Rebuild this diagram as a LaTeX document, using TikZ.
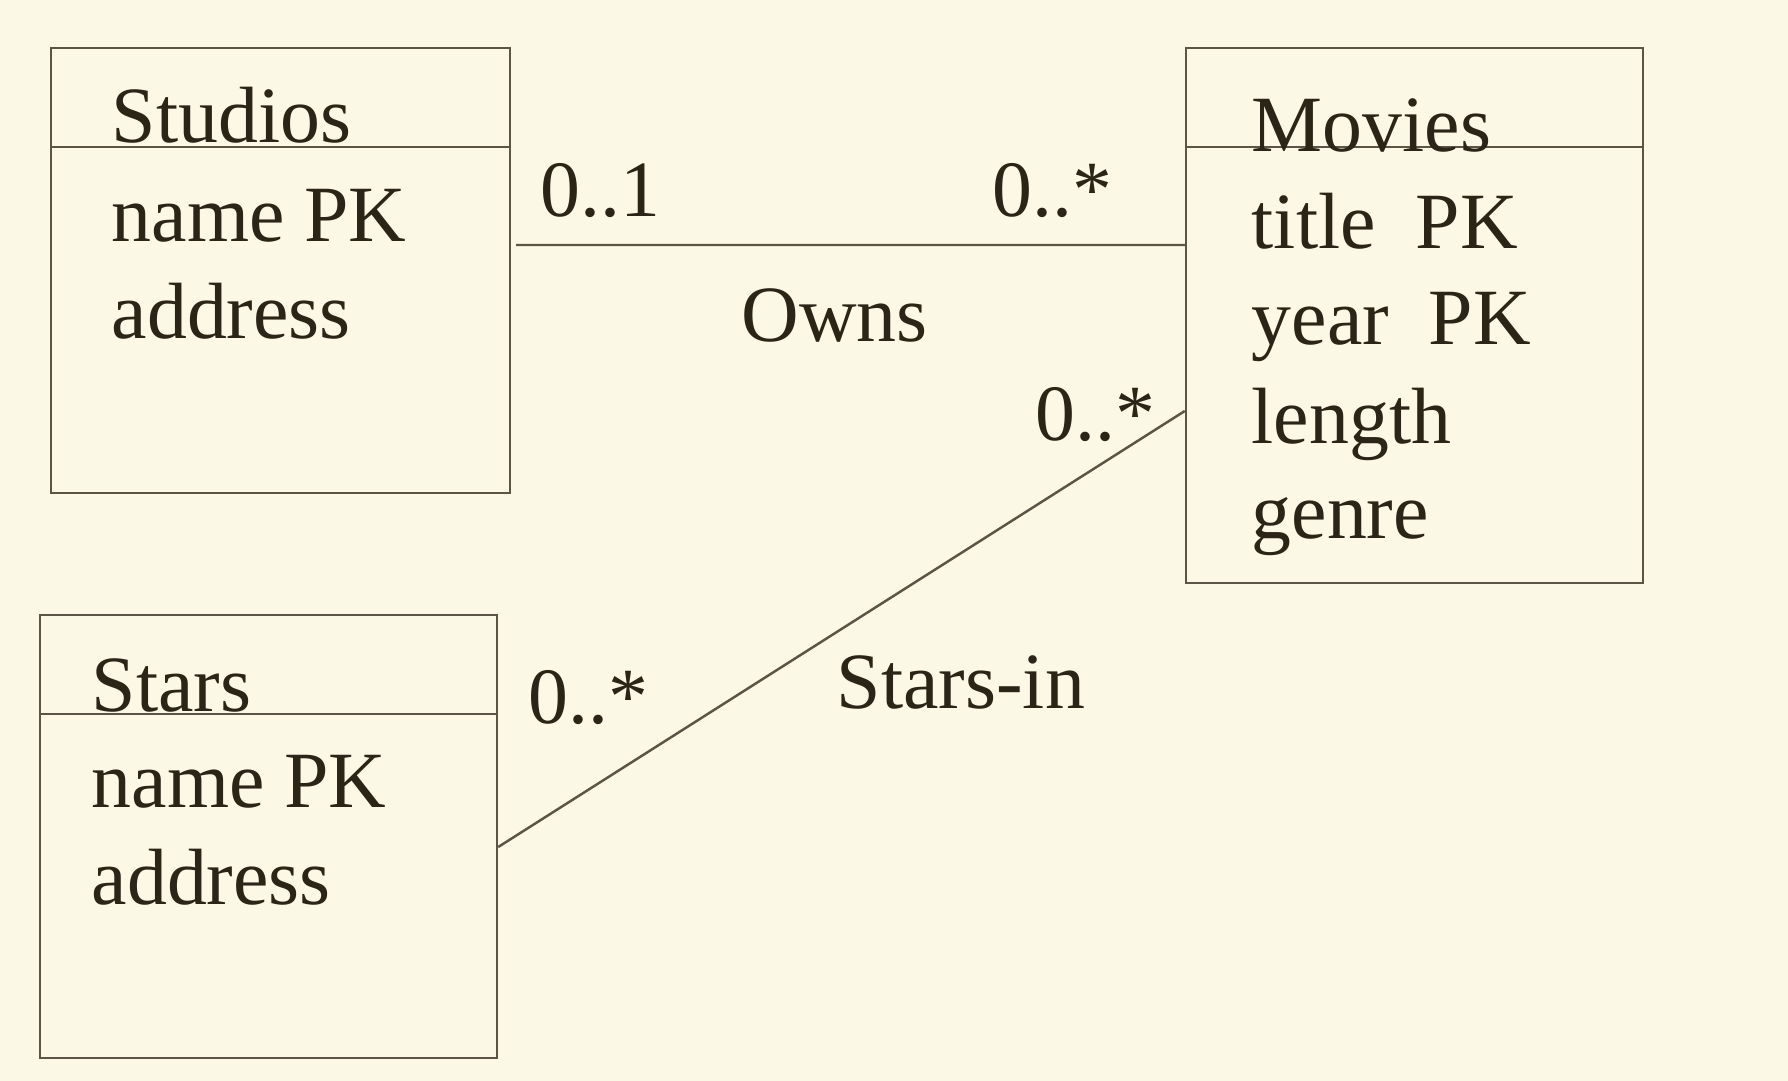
\documentclass[tikz,border=0pt]{standalone}
\usepackage{fontspec}
\setmainfont{Liberation Serif}
\usepackage{xcolor}
\usetikzlibrary{positioning}

\definecolor{paper}{HTML}{FBF8E6}
\definecolor{ink}{HTML}{2A2517}
\definecolor{rulecol}{HTML}{5A5547}

\tikzset{
    entity/.style={draw=rulecol, line width=0.7pt, rectangle, inner sep=0pt},
    txt/.style={anchor=base west, text=ink, inner sep=0pt, font=\fontsize{22.7}{27}\selectfont},
    link/.style={draw=rulecol, line width=0.7pt}
}

\begin{document}
\begin{tikzpicture}
    \fill[paper] (0,0) rectangle (17.88,-10.81);
    \useasboundingbox (0,0) rectangle (17.88,-10.81);

    % Entity boxes
    \node[entity, minimum width=4.59cm, minimum height=4.45cm] (studios) at (2.805,-2.705) {};
    \node[entity, minimum width=4.57cm, minimum height=5.35cm] (movies) at (14.145,-3.155) {};
    \node[entity, minimum width=4.57cm, minimum height=4.43cm] (stars) at (2.685,-8.365) {};

    % Header lines
    \foreach \e in {studios, movies, stars} {
        \draw[link] ([yshift=-1cm]\e.north west) -- ([yshift=-1cm]\e.north east);
    }

    % Class names
    \node[txt] (studiosname) at (1.11,-1.43) {Studios};
    \node[txt] (moviesname) at (12.51,-1.52) {Movies};
    \node[txt] (starsname) at (0.91,-7.12) {Stars};

    % Attributes
    \node[txt] (studioskey) at (1.11,-2.42) {name PK};
    \node[txt] (studiosaddr) at (1.11,-3.39) {address};
    \node[txt] (moviestitle) at (12.51,-2.49) {title~~PK};
    \node[txt] (moviesyear) at (12.51,-3.45) {year~~PK};
    \node[txt] (movieslength) at (12.51,-4.44) {length};
    \node[txt] (moviesgenre) at (12.51,-5.39) {genre};
    \node[txt] (starskey) at (0.91,-8.07) {name PK};
    \node[txt] (starsaddr) at (0.91,-9.04) {address};

    % Associations
    \draw[link] ([shift={(0.05,0.255)}]studios.east) -- ([yshift=0.705cm]movies.west);
    \draw[link] ([yshift=-0.105cm]stars.east) -- ([yshift=-0.955cm]movies.west);

    % Association names and multiplicities
    \node[txt] (ownsone) at (5.40,-2.17) {0..1};
    \node[txt] (ownsmany) at (9.92,-2.17) {0..*};
    \node[txt] (owns) at (7.41,-3.42) {Owns};
    \node[txt] (starsinmovies) at (10.35,-4.41) {0..*};
    \node[txt] (starsinstars) at (5.28,-7.24) {0..*};
    \node[txt] (starsin) at (8.36,-7.09) {Stars-in};
\end{tikzpicture}
\end{document}
